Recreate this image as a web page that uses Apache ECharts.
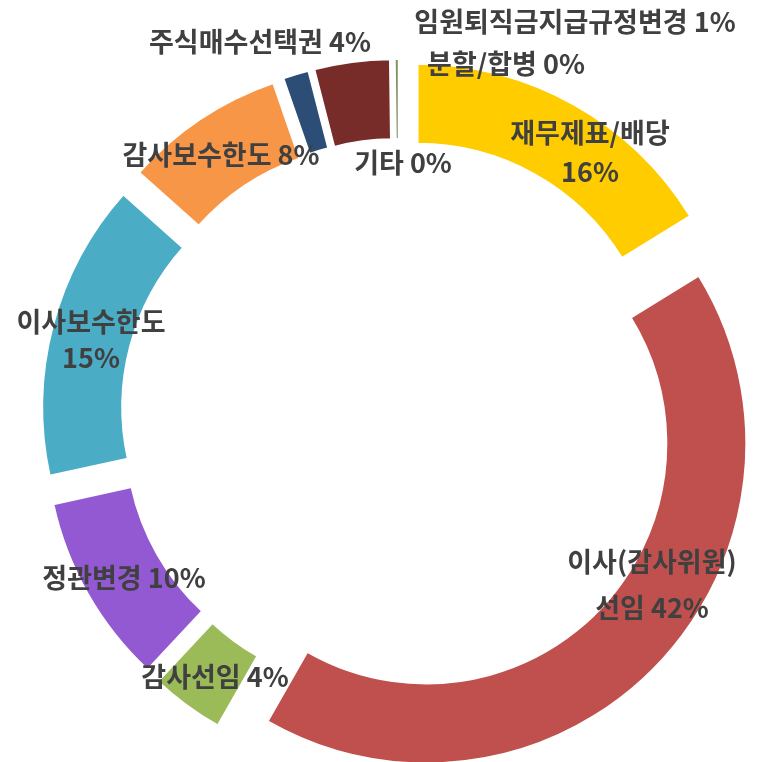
<!DOCTYPE html>
<html>
<head>
<meta charset="utf-8">
<script src="https://cdn.jsdelivr.net/npm/echarts@6/dist/echarts.min.js"></script>
<style>
  html, body { margin: 0; padding: 0; background: #ffffff; }
  #chart { width: 773px; height: 762px; }
</style>
</head>
<body>
<div id="chart"></div>
<script>
// 안건별 비중 (도넛)
var categories = ['재무제표/배당', '이사(감사위원) 선임', '감사선임', '정관변경', '이사보수한도',
                  '감사보수한도', '임원퇴직금지급규정변경', '주식매수선택권', '분할/합병', '기타'];
var shares = [16.2, 42.0, 3.7, 9.6, 15.0, 8.1, 1.3, 3.8, 0.2, 0];
var colors = ['#FFCC00', '#C0504D', '#9BBB59', '#9359D2', '#4BACC6',
              '#F79646', '#2C4D75', '#772C2A', '#7E9160', '#4D3B62'];

// 라벨 위치 (엑셀에서 수동 배치한 자리)
var labelPos = [[590, 152], [652, 585], [215, 677], [124, 578], [91, 340],
                [221, 155], [575, 22], [260, 42], [506, 64], [403, 163]];
var labelLH = [39, 46, 30, 30, 36, 30, 30, 30, 30, 30];

function labelText(i, pct) {
	var name = categories[i];
	if (i == 0 || i == 4) return name + '\n' + pct + '%';
	if (i == 1) return name.replace(' ', '\n') + ' ' + pct + '%';
	return name + ' ' + pct + '%';
}

// 조각 (전부 분리)
var sliceData = [];
// 라벨 전용 (투명)
var labelData = [];
for (var i = 0; i < categories.length; i++) {
	sliceData.push({
		name: categories[i],
		value: shares[i],
		selected: true,
		itemStyle: { color: colors[i] }
	});
	labelData.push({
		name: categories[i],
		value: shares[i],
		label: { lineHeight: labelLH[i] }
	});
}

var myChart = echarts.init(document.getElementById('chart'));
var option = {
	animation: false,
	series: [{
		type: 'pie',
		center: [399, 417],
		radius: [240, 320],
		startAngle: 90,
		clockwise: true,
		selectedMode: 'multiple',
		selectedOffset: 38,
		itemStyle: { borderColor: '#ffffff', borderWidth: 2 },
		emphasis: { disabled: true },
		label: { show: false },
		labelLine: { show: false },
		data: sliceData
	}, {
		type: 'pie',
		center: [399, 417],
		radius: [240, 320],
		startAngle: 90,
		clockwise: true,
		silent: true,
		z: 3,
		avoidLabelOverlap: false,
		itemStyle: { color: 'rgba(0,0,0,0)', borderWidth: 0 },
		emphasis: { disabled: true },
		label: {
			show: true,
			position: 'outside',
			color: '#404040',
			fontFamily: 'Noto Sans CJK KR',
			fontWeight: 'bold',
			fontSize: 27,
			formatter: function (p) {
				return labelText(p.dataIndex, Math.round(p.percent));
			}
		},
		labelLine: { show: false },
		labelLayout: function (p) {
			var pos = labelPos[p.dataIndex];
			return { x: pos[0], y: pos[1], align: 'center', verticalAlign: 'middle' };
		},
		data: labelData
	}]
};
myChart.setOption(option);
</script>
</body>
</html>
